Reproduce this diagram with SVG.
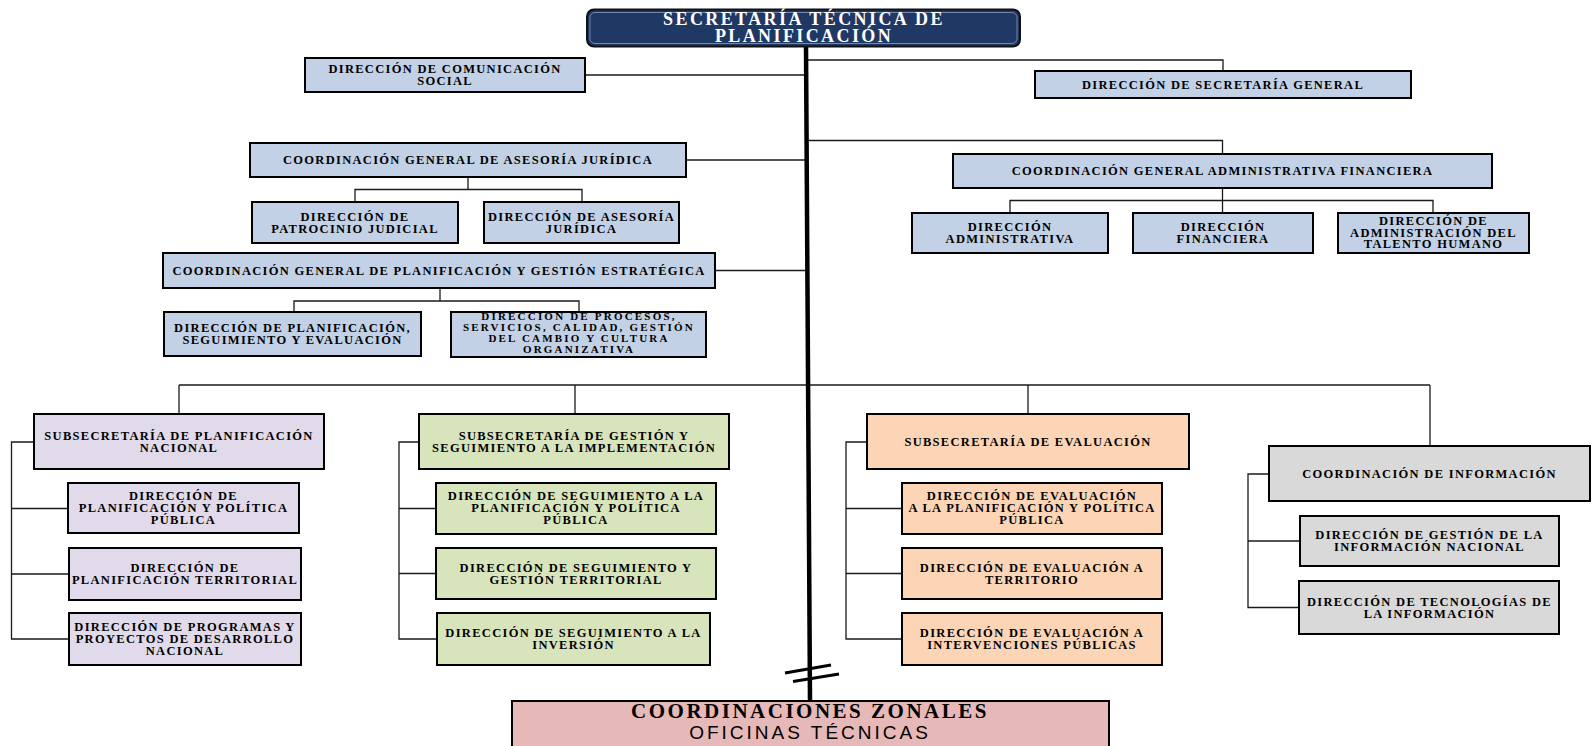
<svg xmlns="http://www.w3.org/2000/svg" width="1596" height="746" viewBox="0 0 1596 746">
<style>
.b{stroke:#000;stroke-width:2}
.blue{fill:#C2D1E5}
.lav{fill:#E0DAEA}
.grn{fill:#D8E4BC}
.pch{fill:#FBD5B5}
.gry{fill:#D9D9D9}
.pnk{fill:#E6B9B8}
.t{font-family:"Liberation Serif",serif;font-weight:bold;font-size:12.5px;letter-spacing:1.3px;text-anchor:middle;fill:#000}
.s{font-size:11px;letter-spacing:2.2px}
.c line,.c polyline{stroke:#1a1a1a;stroke-width:1.3;fill:none}
</style>
<rect width="1596" height="746" fill="#fff"/>
<g class="c" id="connectors">
<line x1="585" y1="75" x2="807" y2="75"/>
<polyline points="807,60 1223,60 1223,71"/>
<line x1="686" y1="160" x2="808" y2="160"/>
<polyline points="808,140.5 1222.5,140.5 1222.5,154"/>
<line x1="1222.5" y1="188" x2="1222.5" y2="213"/>
<polyline points="1010,213 1010,200.5 1433,200.5 1433,213"/>
<line x1="468" y1="177" x2="468" y2="189.5"/>
<polyline points="355,202 355,189.5 582,189.5 582,202"/>
<line x1="715" y1="270.5" x2="808" y2="270.5"/>
<line x1="440" y1="288" x2="440" y2="301"/>
<polyline points="294,312 294,301 579,301 579,312"/>
<line x1="179" y1="385" x2="1430" y2="385"/>
<line x1="179" y1="385" x2="179" y2="414"/>
<line x1="575" y1="385" x2="575" y2="414"/>
<line x1="1028" y1="385" x2="1028" y2="414"/>
<line x1="1430" y1="385" x2="1430" y2="446"/>
<polyline points="34,442 11.5,442 11.5,639 69,639"/>
<line x1="11.5" y1="508.5" x2="68" y2="508.5"/>
<line x1="11.5" y1="574" x2="69" y2="574"/>
<polyline points="419,442 399,442 399,639 437,639"/>
<line x1="399" y1="508.5" x2="436" y2="508.5"/>
<line x1="399" y1="573.5" x2="436" y2="573.5"/>
<polyline points="867,442 846,442 846,639 902,639"/>
<line x1="846" y1="508.5" x2="902" y2="508.5"/>
<line x1="846" y1="573.5" x2="902" y2="573.5"/>
<polyline points="1269,474 1248,474 1248,607.5 1299,607.5"/>
<line x1="1248" y1="541" x2="1300" y2="541"/>
<line x1="806" y1="46" x2="810" y2="701" style="stroke:#000;stroke-width:4.5"/>
<line x1="785" y1="673" x2="831" y2="665" style="stroke:#000;stroke-width:3"/>
<line x1="793" y1="681.5" x2="839" y2="674" style="stroke:#000;stroke-width:3"/>
</g>
<g id="n-secretaria">
<rect x="587" y="9.5" width="433" height="37" rx="7" fill="#1F3864" stroke="#111" stroke-width="2"/>
<rect x="590" y="12.5" width="427" height="31" rx="5" fill="none" stroke="#7186AA" stroke-width="1"/>
<text class="t" x="804" y="25" style="font-size:18px;letter-spacing:2.4px;fill:#fff">SECRETARÍA TÉCNICA DE</text>
<text class="t" x="804" y="42" style="font-size:18px;letter-spacing:2.4px;fill:#fff">PLANIFICACIÓN</text>
</g>
<g id="n-comunicacion">
<rect class="b blue" x="305" y="58" width="280" height="34"/>
<text class="t" x="445" y="73">DIRECCIÓN DE COMUNICACIÓN</text>
<text class="t" x="445" y="85">SOCIAL</text>
</g>
<g id="n-secgeneral">
<rect class="b blue" x="1035" y="71" width="376" height="27"/>
<text class="t" x="1223" y="88.7">DIRECCIÓN DE SECRETARÍA GENERAL</text>
</g>
<g id="n-cgaj">
<rect class="b blue" x="250" y="143" width="436" height="34"/>
<text class="t" x="468" y="164">COORDINACIÓN GENERAL DE ASESORÍA JURÍDICA</text>
</g>
<g id="n-patrocinio">
<rect class="b blue" x="252" y="202" width="206" height="41"/>
<text class="t" x="355" y="220.5">DIRECCIÓN DE</text>
<text class="t" x="355" y="232.5">PATROCINIO JUDICIAL</text>
</g>
<g id="n-asesoria">
<rect class="b blue" x="484" y="202" width="195" height="41"/>
<text class="t" x="581.5" y="220.5">DIRECCIÓN DE ASESORÍA</text>
<text class="t" x="581.5" y="232.5">JURÍDICA</text>
</g>
<g id="n-cgpge">
<rect class="b blue" x="163" y="253" width="552" height="35"/>
<text class="t" x="439" y="274.7">COORDINACIÓN GENERAL DE PLANIFICACIÓN Y GESTIÓN ESTRATÉGICA</text>
</g>
<g id="n-dpse">
<rect class="b blue" x="164" y="312" width="257" height="44"/>
<text class="t" x="292.5" y="332">DIRECCIÓN DE PLANIFICACIÓN,</text>
<text class="t" x="292.5" y="344">SEGUIMIENTO Y EVALUACIÓN</text>
</g>
<g id="n-procesos">
<rect class="b blue" x="451" y="312" width="255" height="45"/>
<text class="t s" x="579" y="320">DIRECCIÓN DE PROCESOS,</text>
<text class="t s" x="579" y="331">SERVICIOS, CALIDAD, GESTIÓN</text>
<text class="t s" x="579" y="342">DEL CAMBIO Y CULTURA</text>
<text class="t s" x="579" y="353">ORGANIZATIVA</text>
</g>
<g id="n-cgaf">
<rect class="b blue" x="953" y="154" width="539" height="34"/>
<text class="t" x="1222.5" y="175">COORDINACIÓN GENERAL ADMINISTRATIVA FINANCIERA</text>
</g>
<g id="n-dadmin">
<rect class="b blue" x="912" y="213" width="196" height="40"/>
<text class="t" x="1010" y="231">DIRECCIÓN</text>
<text class="t" x="1010" y="243">ADMINISTRATIVA</text>
</g>
<g id="n-dfin">
<rect class="b blue" x="1133" y="213" width="180" height="40"/>
<text class="t" x="1223" y="231">DIRECCIÓN</text>
<text class="t" x="1223" y="243">FINANCIERA</text>
</g>
<g id="n-dtalento">
<rect class="b blue" x="1338" y="213" width="191" height="40"/>
<text class="t" x="1433.5" y="225">DIRECCIÓN DE</text>
<text class="t" x="1433.5" y="236.5">ADMINISTRACIÓN DEL</text>
<text class="t" x="1433.5" y="248">TALENTO HUMANO</text>
</g>
<g id="n-spn">
<rect class="b lav" x="34" y="414" width="290" height="55"/>
<text class="t" x="179" y="439.5">SUBSECRETARÍA DE PLANIFICACIÓN</text>
<text class="t" x="179" y="451.5">NACIONAL</text>
</g>
<g id="n-dppp">
<rect class="b lav" x="68" y="483" width="231" height="50"/>
<text class="t" x="183.5" y="500">DIRECCIÓN DE</text>
<text class="t" x="183.5" y="512">PLANIFICACIÓN Y POLÍTICA</text>
<text class="t" x="183.5" y="524">PÚBLICA</text>
</g>
<g id="n-dpt">
<rect class="b lav" x="69" y="548" width="232" height="52"/>
<text class="t" x="185" y="572">DIRECCIÓN DE</text>
<text class="t" x="185" y="584">PLANIFICACIÓN TERRITORIAL</text>
</g>
<g id="n-dppdn">
<rect class="b lav" x="69" y="613" width="232" height="52"/>
<text class="t" x="185" y="631">DIRECCIÓN DE PROGRAMAS Y</text>
<text class="t" x="185" y="643">PROYECTOS DE DESARROLLO</text>
<text class="t" x="185" y="655">NACIONAL</text>
</g>
<g id="n-sgsi">
<rect class="b grn" x="419" y="414" width="310" height="55"/>
<text class="t" x="574" y="439.5">SUBSECRETARÍA DE GESTIÓN Y</text>
<text class="t" x="574" y="451.5">SEGUIMIENTO A LA IMPLEMENTACIÓN</text>
</g>
<g id="n-dsppp">
<rect class="b grn" x="436" y="483" width="280" height="51"/>
<text class="t" x="576" y="500">DIRECCIÓN DE SEGUIMIENTO A LA</text>
<text class="t" x="576" y="512">PLANIFICACIÓN Y POLÍTICA</text>
<text class="t" x="576" y="524">PÚBLICA</text>
</g>
<g id="n-dsgt">
<rect class="b grn" x="436" y="548" width="280" height="51"/>
<text class="t" x="576" y="571.5">DIRECCIÓN DE SEGUIMIENTO Y</text>
<text class="t" x="576" y="583.5">GESTIÓN TERRITORIAL</text>
</g>
<g id="n-dsi">
<rect class="b grn" x="437" y="613" width="273" height="52"/>
<text class="t" x="573.5" y="637">DIRECCIÓN DE SEGUIMIENTO A LA</text>
<text class="t" x="573.5" y="649">INVERSIÓN</text>
</g>
<g id="n-se">
<rect class="b pch" x="867" y="414" width="322" height="55"/>
<text class="t" x="1028" y="445.5">SUBSECRETARÍA DE EVALUACIÓN</text>
</g>
<g id="n-deppp">
<rect class="b pch" x="902" y="483" width="260" height="51"/>
<text class="t" x="1032" y="500">DIRECCIÓN DE EVALUACIÓN</text>
<text class="t" x="1032" y="512">A LA PLANIFICACIÓN Y POLÍTICA</text>
<text class="t" x="1032" y="524">PÚBLICA</text>
</g>
<g id="n-det">
<rect class="b pch" x="902" y="548" width="260" height="51"/>
<text class="t" x="1032" y="571.5">DIRECCIÓN DE EVALUACIÓN A</text>
<text class="t" x="1032" y="583.5">TERRITORIO</text>
</g>
<g id="n-deip">
<rect class="b pch" x="902" y="613" width="260" height="52"/>
<text class="t" x="1032" y="637">DIRECCIÓN DE EVALUACIÓN A</text>
<text class="t" x="1032" y="649">INTERVENCIONES PÚBLICAS</text>
</g>
<g id="n-ci">
<rect class="b gry" x="1269" y="446" width="321" height="55"/>
<text class="t" x="1429.5" y="477.5">COORDINACIÓN DE INFORMACIÓN</text>
</g>
<g id="n-dgin">
<rect class="b gry" x="1300" y="516" width="259" height="50"/>
<text class="t" x="1429.5" y="539">DIRECCIÓN DE GESTIÓN DE LA</text>
<text class="t" x="1429.5" y="551">INFORMACIÓN NACIONAL</text>
</g>
<g id="n-dti">
<rect class="b gry" x="1299" y="581" width="260" height="53"/>
<text class="t" x="1429.5" y="605.5">DIRECCIÓN DE TECNOLOGÍAS DE</text>
<text class="t" x="1429.5" y="617.5">LA INFORMACIÓN</text>
</g>
<g id="n-zonales">
<rect class="b pnk" x="512" y="701" width="597" height="60"/>
<text class="t" x="810" y="718" style="font-size:21px;letter-spacing:2.5px">COORDINACIONES ZONALES</text>
<text x="810" y="739" style="font-family:'Liberation Sans',sans-serif;font-size:19px;letter-spacing:3px;text-anchor:middle;fill:#000">OFICINAS TÉCNICAS</text>
</g>
</svg>
